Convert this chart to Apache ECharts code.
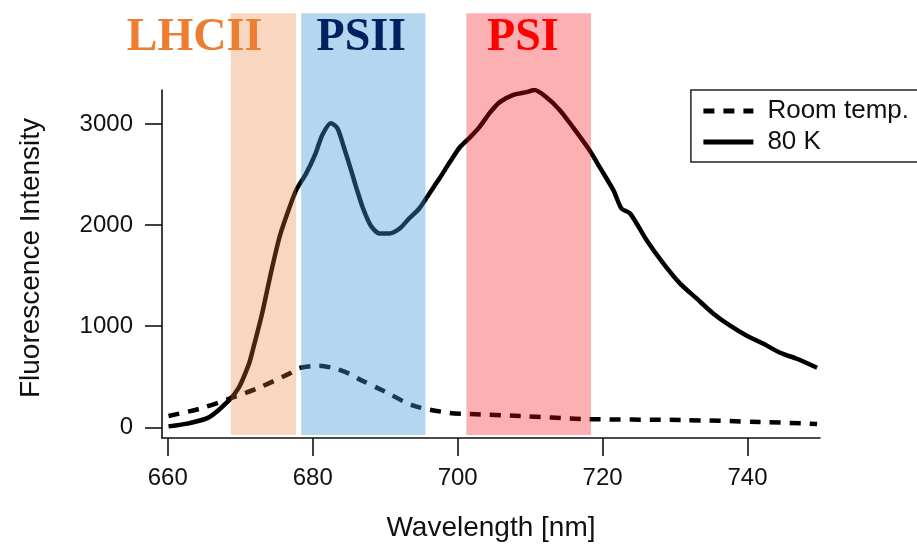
<!DOCTYPE html>
<html>
<head>
<meta charset="utf-8">
<script src="https://cdn.jsdelivr.net/npm/echarts@6/dist/echarts.min.js"></script>
<style>
html,body{margin:0;padding:0;background:#fff;}
#chart{width:917px;height:548px;}
</style>
</head>
<body>
<div id="chart"></div>
<script>
// ---- data ----
const xTicks = [660, 680, 700, 720, 740];
const yTicks = [0, 1000, 2000, 3000];

const roomTempNm = [660.1, 664.3, 668.4, 672.6, 676.7, 678.1, 680.9, 683.2, 685.1, 686.4, 689.8, 694.0, 698.9, 701.6, 708.6, 717.3, 730.7, 741.7, 749.6];
const roomTempValues = [113, 182, 281, 393, 529, 586, 608, 579, 529, 477, 360, 212, 143, 133, 113, 83, 73, 54, 34];

const k80Nm = [660.1, 662.9, 665.7, 668.4, 669.8, 671.2, 671.7, 673.0, 674.2, 675.4, 676.3, 677.7, 679.1, 680.4, 681.3, 682.5, 683.4, 684.3, 685.3, 686.0, 686.9, 688.0, 689.2, 690.6, 692.0, 693.3, 694.7, 696.1, 697.5, 698.9, 700.3, 701.6, 703.0, 704.4, 705.8, 707.6, 709.5, 710.6, 712.2, 714.1, 715.9, 718.2, 719.6, 721.5, 722.6, 723.8, 726.1, 728.4, 730.7, 733.0, 735.3, 737.6, 739.9, 742.2, 744.5, 746.8, 749.6];
const k80Values = [10, 40, 100, 264, 393, 628, 757, 1121, 1517, 1877, 2075, 2343, 2511, 2709, 2888, 3007, 2958, 2769, 2541, 2373, 2174, 1996, 1917, 1917, 1966, 2065, 2164, 2313, 2462, 2620, 2769, 2859, 2968, 3106, 3215, 3285, 3314, 3334, 3265, 3136, 2968, 2740, 2572, 2343, 2164, 2114, 1847, 1619, 1421, 1272, 1124, 1005, 906, 827, 737, 678, 589];

const bandNames = ['LHCII', 'PSII', 'PSI'];
const bandStart = [668.7, 678.4, 701.2];
const bandEnd = [677.7, 695.55, 718.4];
const bandLow = -75;
const bandHigh = 4094;
const bandLabelNm = [663.7, 686.7, 709.0];
const bandLabelValue = 3849;

// ---- styles ----
const bandFills = ['rgba(233,118,48,0.30)', 'rgba(64,149,213,0.39)', 'rgba(249,8,14,0.32)'];
const labelColors = ['#ED7D31', '#002060', '#FF0000'];
const sans = '"Liberation Sans", Arial, sans-serif';

const chart = echarts.init(document.getElementById('chart'), null, {renderer: 'canvas'});

const option = {
  animation: false,
  backgroundColor: '#fff',
  grid: {left: 162, right: 97, top: 90, bottom: 110},
  legend: {
    orient: 'vertical',
    right: -30,
    top: 90,
    data: ['Room temp.', '80 K'],
    itemWidth: 50,
    itemHeight: 14,
    itemGap: 5,
    padding: [8, 38, 7, 10],
    borderColor: '#222',
    borderWidth: 1.5,
    itemStyle: {opacity: 0},
    lineStyle: {width: 5},
    textStyle: {fontFamily: sans, fontSize: 26, color: '#111', lineHeight: 26, padding: [0, 0, 0, 9]}
  },
  xAxis: {
    type: 'value',
    min: 659.2,
    max: 750,
    name: 'Wavelength [nm]',
    nameLocation: 'middle',
    nameGap: 76,
    nameTextStyle: {fontFamily: sans, fontSize: 28, color: '#111'},
    axisLine: {show: true, onZero: false, lineStyle: {color: '#111', width: 1.6}},
    axisTick: {show: true, inside: false, length: 18, customValues: xTicks, lineStyle: {color: '#111', width: 1.6}},
    axisLabel: {customValues: xTicks, margin: 28, fontFamily: sans, fontSize: 24, color: '#111', formatter: v => String(v)},
    splitLine: {show: false}
  },
  yAxis: {
    type: 'value',
    min: -105,
    max: 3335,
    name: 'Fluorescence Intensity',
    nameLocation: 'middle',
    nameGap: 117,
    nameTextStyle: {fontFamily: sans, fontSize: 28, color: '#111', padding: [0, 0, 0, 12]},
    axisLine: {show: true, onZero: false, lineStyle: {color: '#111', width: 1.6}},
    axisTick: {show: true, inside: false, length: 17, customValues: yTicks, lineStyle: {color: '#111', width: 1.6}},
    axisLabel: {customValues: yTicks, margin: 29, fontFamily: sans, fontSize: 24, color: '#111', formatter: v => String(v)},
    splitLine: {show: false}
  },
  series: [
    {
      name: 'Room temp.',
      type: 'line',
      data: roomTempNm.map((x, i) => [x, roomTempValues[i]]),
      symbol: 'none',
      smooth: 0.3,
      z: 2,
      lineStyle: {color: '#000', width: 4.5, type: [11, 9], cap: 'butt'},
      itemStyle: {color: '#000'}
    },
    {
      name: '80 K',
      type: 'line',
      data: k80Nm.map((x, i) => [x, k80Values[i]]),
      symbol: 'none',
      smooth: 0.25,
      z: 2,
      lineStyle: {color: '#000', width: 4.5},
      itemStyle: {color: '#000'}
    },
    {
      name: 'bands',
      type: 'custom',
      clip: false,
      z: 3,
      silent: true,
      data: bandStart.map((s, i) => [s, bandEnd[i], bandLow, bandHigh]),
      renderItem: function (params, api) {
        const p0 = api.coord([api.value(0), api.value(2)]);
        const p1 = api.coord([api.value(1), api.value(3)]);
        return {
          type: 'rect',
          shape: {x: p0[0], y: p1[1], width: p1[0] - p0[0], height: p0[1] - p1[1]},
          style: {fill: bandFills[params.dataIndex]}
        };
      }
    },
    {
      name: 'bandLabels',
      type: 'custom',
      clip: false,
      z: 4,
      silent: true,
      data: bandLabelNm.map((x, i) => [x, bandLabelValue]),
      renderItem: function (params, api) {
        const p = api.coord([api.value(0), api.value(1)]);
        return {
          type: 'text',
          x: p[0],
          y: p[1],
          style: {
            text: bandNames[params.dataIndex],
            fill: labelColors[params.dataIndex],
            font: 'bold 46px "Liberation Serif", "Times New Roman", serif',
            align: 'center',
            verticalAlign: 'middle'
          }
        };
      }
    }
  ]
};
chart.setOption(option);
</script>
</body>
</html>
